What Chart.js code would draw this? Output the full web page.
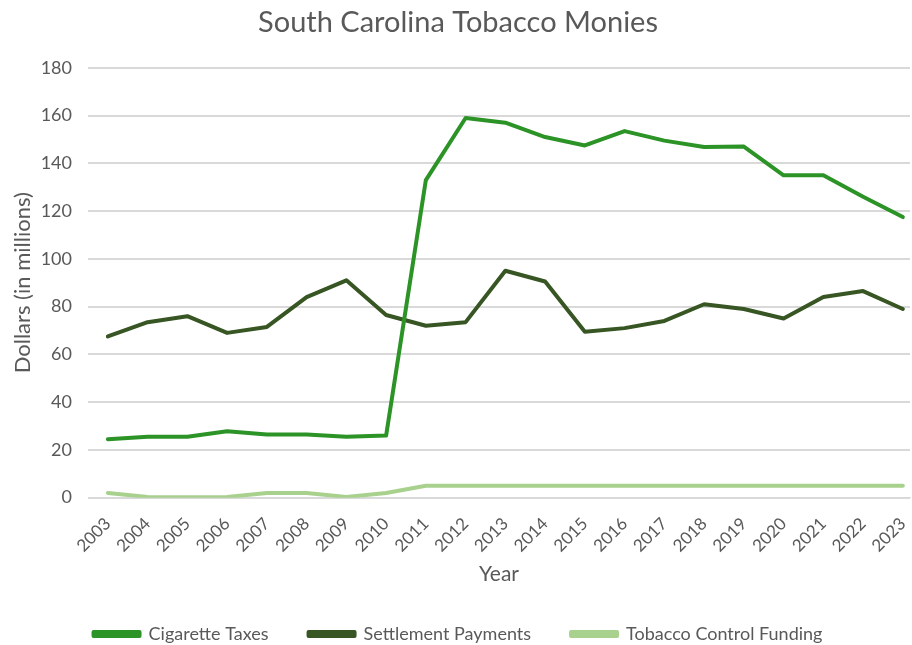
<!DOCTYPE html>
<html lang="en">
<head>
<meta charset="utf-8"/>
<title>South Carolina Tobacco Monies</title>
<script src="https://cdn.jsdelivr.net/npm/chart.js@4.4.3/dist/chart.umd.min.js"></script>
<style>
  html, body { margin: 0; padding: 0; background: #fff; }
  .wrap { width: 912px; height: 645px; position: relative; }
</style>
</head>
<body>
<div class="wrap"><canvas id="tobaccoChart"></canvas></div>
<script>
  // data (millions of dollars)
  const years = [2003, 2004, 2005, 2006, 2007, 2008, 2009, 2010, 2011, 2012, 2013,
                 2014, 2015, 2016, 2017, 2018, 2019, 2020, 2021, 2022, 2023];
  const cigaretteTaxes = [24.5, 25.5, 25.5, 27.8, 26.5, 26.5, 25.5, 26, 133, 159, 157,
                          151, 147.5, 153.5, 149.5, 146.8, 147, 135, 135, 126, 117.5];
  const settlementPayments = [67.5, 73.5, 76, 69, 71.5, 84, 91, 76.5, 72, 73.5, 95,
                              90.5, 69.5, 71, 74, 81, 79, 75, 84, 86.5, 79];
  const controlFunding = [2, 0.3, 0.2, 0.3, 2, 2, 0.3, 2, 5, 5, 5,
                          5, 5, 5, 5, 5, 5, 5, 5, 5, 5];

  const toPoints = (vals) => years.map((yr, i) => ({ x: yr, y: vals[i] }));
  const txt = '#595959';
  const font = 'Lato, "Open Sans", sans-serif';

  // keep the wide gap between legend items without a tall legend box
  const legendHeight = {
    id: 'legendHeight',
    beforeInit(chart) {
      const fit = chart.legend.fit;
      chart.legend.fit = function () {
        fit.call(this);
        this.height = 60;
      };
    },
  };

  new Chart(document.getElementById('tobaccoChart'), {
    type: 'line',
    data: {
      datasets: [
        { label: 'Cigarette Taxes', data: toPoints(cigaretteTaxes),
          borderColor: '#2C9327', backgroundColor: '#2C9327' },
        { label: 'Settlement Payments', data: toPoints(settlementPayments),
          borderColor: '#375623', backgroundColor: '#375623' },
        { label: 'Tobacco Control Funding', data: toPoints(controlFunding),
          borderColor: '#A9D18E', backgroundColor: '#A9D18E' },
      ],
    },
    plugins: [legendHeight],
    options: {
      responsive: true,
      maintainAspectRatio: false,
      animation: false,
      elements: {
        line: { borderWidth: 4, tension: 0, borderCapStyle: 'round', borderJoinStyle: 'round' },
        point: { radius: 0, hoverRadius: 0 },
      },
      layout: { padding: { left: 6, right: 2, top: 0, bottom: 0 } },
      plugins: {
        title: { display: true, text: 'South Carolina Tobacco Monies', color: txt,
                 font: { family: font, size: 29, weight: 'normal' }, padding: { top: 5, bottom: 28 } },
        legend: { position: 'bottom',
                  labels: { color: txt, boxWidth: 46, boxHeight: 4, padding: 40,
                            font: { family: font, size: 18 } } },
        tooltip: { enabled: false },
      },
      scales: {
        x: {
          type: 'linear', min: 2002.5, max: 2023.18,
          afterBuildTicks: (axis) => { axis.ticks = years.map(v => ({ value: v })); },
          afterFit: (axis) => { axis.paddingLeft = 0; axis.paddingRight = 0; },
          ticks: { color: txt, maxRotation: 45, minRotation: 45, padding: 8,
                   font: { family: font, size: 17 }, callback: (v) => String(v) },
          grid: { display: false },
          border: { color: '#d9d9d9' },
          title: { display: true, text: 'Year', color: txt,
                   font: { family: font, size: 21, lineHeight: 1 },
                   padding: { top: 0, bottom: 0 } },
        },
        y: {
          min: 0, max: 180,
          afterFit: (axis) => { axis.width = 82; },
          ticks: { stepSize: 20, color: txt, padding: 16, font: { family: font, size: 18 } },
          grid: { color: '#d9d9d9', lineWidth: 2, drawTicks: false },
          border: { display: false },
          title: { display: true, text: 'Dollars (in millions)', color: txt,
                   font: { family: font, size: 22 }, padding: { top: 4, bottom: 4 } },
        },
      },
    },
  });
</script>
</body>
</html>
